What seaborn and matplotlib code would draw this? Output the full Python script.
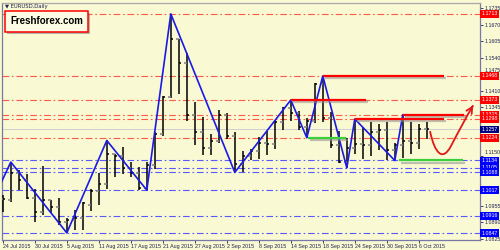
import numpy as np
import pandas as pd
import matplotlib
matplotlib.use("Agg")
import matplotlib.pyplot as plt
import matplotlib.patheffects as pe
import matplotlib.transforms as mtransforms
from matplotlib.path import Path
from matplotlib.patches import PathPatch
import seaborn as sns

# ---------------- data ----------------
dates = pd.bdate_range("2015-07-24", "2015-10-07")
opens = [1.0980, 1.0978, 1.1085, 1.1057, 1.0986, 1.0930, 1.0978, 1.0950, 1.0890, 1.0900,
         1.0907, 1.0960, 1.1015, 1.1040, 1.1160, 1.1150, 1.1105, 1.1085, 1.1025, 1.1115,
         1.1240, 1.1385, 1.1615, 1.1518, 1.1315, 1.1245, 1.1185, 1.1210, 1.1315, 1.1230,
         1.1120, 1.1150, 1.1170, 1.1205, 1.1200, 1.1285, 1.1340, 1.1320, 1.1265, 1.1290,
         1.1435, 1.1300, 1.1195, 1.1130, 1.1185, 1.1200, 1.1195, 1.1245, 1.1255, 1.1175,
         1.1195, 1.1210, 1.1205, 1.1260]
highs = [1.0998, 1.1128, 1.1096, 1.1080, 1.1021, 1.1112, 1.0978, 1.0985, 1.0907, 1.0938,
         1.0970, 1.1020, 1.1085, 1.1213, 1.1160, 1.1187, 1.1130, 1.1110, 1.1130, 1.1245,
         1.1390, 1.1713, 1.1615, 1.1560, 1.1365, 1.1305, 1.1240, 1.1332, 1.1320, 1.1245,
         1.1170, 1.1180, 1.1225, 1.1250, 1.1295, 1.1345, 1.1373, 1.1330, 1.1300, 1.1440,
         1.1468, 1.1326, 1.1250, 1.1223, 1.1298, 1.1265, 1.1285, 1.1280, 1.1285, 1.1205,
         1.1315, 1.1285, 1.1280, 1.1285]
lows = [1.0932, 1.0970, 1.1017, 1.0982, 1.0891, 1.0918, 1.0926, 1.0879, 1.0848, 1.0858,
        1.0858, 1.0935, 1.0960, 1.1020, 1.1070, 1.1080, 1.1070, 1.1018, 1.1017, 1.1100,
        1.1230, 1.1380, 1.1395, 1.1290, 1.1195, 1.1155, 1.1155, 1.1205, 1.1220, 1.1087,
        1.1090, 1.1135, 1.1140, 1.1155, 1.1180, 1.1255, 1.1290, 1.1255, 1.1224, 1.1282,
        1.1285, 1.1183, 1.1124, 1.1105, 1.1160, 1.1140, 1.1150, 1.1175, 1.1136, 1.1134,
        1.1145, 1.1160, 1.1180, 1.1220]
closes = [1.0983, 1.1085, 1.1057, 1.0986, 1.0930, 1.0978, 1.0950, 1.0890, 1.0900, 1.0907,
          1.0965, 1.1015, 1.1040, 1.1160, 1.1150, 1.1105, 1.1085, 1.1025, 1.1115, 1.1240,
          1.1385, 1.1615, 1.1518, 1.1315, 1.1245, 1.1185, 1.1210, 1.1315, 1.1230, 1.1120,
          1.1150, 1.1170, 1.1205, 1.1200, 1.1285, 1.1340, 1.1320, 1.1265, 1.1290, 1.1435,
          1.1300, 1.1195, 1.1130, 1.1185, 1.1200, 1.1195, 1.1245, 1.1255, 1.1175, 1.1195,
          1.1210, 1.1205, 1.1260, 1.1257]

zigzag_bar = [-3, 1, 8, 13, 18, 21, 29, 36, 38, 40, 43, 44, 49, 50]
zigzag_price = [1.0857, 1.1128, 1.0848, 1.1213, 1.1017, 1.1713, 1.1087, 1.1373,
                1.1224, 1.1468, 1.1105, 1.1298, 1.1134, 1.1315]

red_levels = [1.1713, 1.1468, 1.1373, 1.1315, 1.1298, 1.1224]
blue_levels = [1.1134, 1.1105, 1.1088, 1.1017, 1.0916, 1.0847]
bid_price = 1.1257
axis_ticks = [1.1735, 1.1670, 1.1605, 1.1540, 1.1475, 1.1410, 1.1345,
              1.1150, 1.0955, 1.0890, 1.0825]

# resistance / support segments: (price, from bar, to bar)
resist_price = [1.1468, 1.1373, 1.1298, 1.1315]
resist_from = [40, 36, 44, 50]
resist_to = [55.2, 45.4, 55.2, 57.6]
support_price = [1.1224, 1.1134]
support_from = [38.2, 49.5]
support_to = [42.9, 57.5]

# hand-drawn forecast curve (bar, price) bezier nodes
fc_bar = [53.4, 54.0, 55.0, 56.0, 57.0, 58.0, 58.8]
fc_price = [1.1250, 1.1160, 1.1130, 1.1190, 1.1250, 1.1310, 1.1352]

# ---------------- style ----------------
sns.set_theme(style="white")
plt.rcParams["font.family"] = ["Liberation Sans", "DejaVu Sans"]

BG = "#f9f9d3"
RED = "#ff0000"
RED_DD = "#ff5a48"
BLUE_DD = "#5858ff"
SPINE = "#7878a8"
TXT = "#202050"

fig = plt.figure(figsize=(5, 2.5), dpi=100)
fig.patch.set_facecolor(BG)
ax = fig.add_axes([0.004, 0.04, 0.956, 0.948])
ax.set_facecolor(BG)

x = np.arange(len(opens))
ax.set_xlim(-0.1, 59.65)
ax.set_ylim(1.0820, 1.1756)

dd = (0, (6, 2.5, 1.5, 2.5))
for v in red_levels:
    ax.axhline(v, color=RED_DD, lw=0.8, ls=dd, zorder=1)
for v in blue_levels:
    ax.axhline(v, color=BLUE_DD, lw=0.8, ls=dd, zorder=1)
ax.axhline(bid_price, color="#c8c8d0", lw=0.6, zorder=1)

# OHLC bars
ax.vlines(x, lows, highs, color="black", lw=1.1, zorder=3)
ax.hlines(opens, x - 0.32, x, color="#808080", lw=1.1, zorder=3)
ax.hlines(closes, x, x + 0.32, color="black", lw=1.1, zorder=3)

# zigzag
zz = pd.DataFrame({"bar": zigzag_bar, "price": zigzag_price})
sns.lineplot(data=zz, x="bar", y="price", sort=False, estimator=None,
             color="#1a1ae6", lw=1.2, ax=ax, zorder=4)

shadow = [pe.SimpleLineShadow(offset=(1.5, -1.5), shadow_color="#909090", alpha=0.55),
          pe.Normal()]
for p, a, b in zip(resist_price, resist_from, resist_to):
    ax.plot([a, b], [p, p], color=RED, lw=1.6, zorder=5, path_effects=shadow,
            solid_capstyle="butt")
for p, a, b in zip(support_price, support_from, support_to):
    ax.plot([a, b], [p, p], color="#3ccf3c", lw=1.6, zorder=5, path_effects=shadow,
            solid_capstyle="butt")

# forecast curve
verts = list(zip(fc_bar, fc_price))
codes = [Path.MOVETO] + [Path.CURVE4] * 6
patch = PathPatch(Path(verts, codes), fc="none", ec="#e01818", lw=1.3, zorder=6)
ax.add_patch(patch)
ax.annotate("", xy=(fc_bar[-1], fc_price[-1]), xytext=(fc_bar[-1] - 0.3, fc_price[-1] - 0.0016),
            arrowprops=dict(arrowstyle="->", color="#e01818", lw=1.3, mutation_scale=11),
            zorder=6)

# axes cosmetics
for s in ax.spines.values():
    s.set_color(SPINE)
    s.set_linewidth(0.9)
ax.spines["top"].set_color("#a8a8a8")
ax.set_xlabel("")
ax.set_ylabel("")

ax.yaxis.tick_right()
ax.set_yticks(axis_ticks)
ax.set_yticklabels([f"{v:.4f}" for v in axis_ticks])
ax.tick_params(axis="y", right=True, left=False, length=2, width=0.6, pad=1.5,
               labelsize=3.8, colors=TXT)
# nudge plain labels that sit next to highlighted price boxes (as the terminal does)
for lab in ax.get_yticklabels():
    if lab.get_text() in ("1.1475", "1.1150"):
        lab.set_transform(lab.get_transform() +
                          mtransforms.ScaledTranslation(0, 0.045, fig.dpi_scale_trans))

tick_idx = list(range(0, len(dates), 4))
ax.set_xticks(tick_idx)
ax.set_xticklabels([f"{dates[i].day} {dates[i].strftime('%b %Y')}" for i in tick_idx])
ax.tick_params(axis="x", bottom=True, length=2, width=0.6, pad=1.2,
               labelsize=3.8, colors=TXT)
for lab in ax.get_xticklabels():
    lab.set_ha("left")
    lab.set_family(["Liberation Sans Narrow", "Liberation Sans", "DejaVu Sans"])

trans = mtransforms.blended_transform_factory(ax.transAxes, ax.transData)
for levels, col in ((red_levels, RED), (blue_levels, "#0000ff"), ([bid_price], "#000080")):
    for v in levels:
        ax.text(1.003, v, f"{v:.4f}", transform=trans, fontsize=3.8, color="white",
                va="center", ha="left", clip_on=False, zorder=10,
                bbox=dict(boxstyle="square,pad=0.25", fc=col, ec="none"))

ax.text(0.006, 0.995, "\u25bc EURUSD,Daily", transform=ax.transAxes, fontsize=3.8,
        va="top", ha="left", color=TXT, family=["DejaVu Sans"])

t = fig.text(0.093, 0.914, "Freshforex.com", fontsize=7, fontweight="bold",
             color="black", ha="center", va="center", zorder=20,
             bbox=dict(boxstyle="square,pad=0.55", fc="#fcfce4", ec=RED, lw=1.1))
t.get_bbox_patch().set_path_effects([pe.withSimplePatchShadow(offset=(1.5, -1.5),
                                                               shadow_rgbFace="#888888",
                                                               alpha=0.6)])

fig.savefig("out.png", dpi=100, facecolor=BG)
